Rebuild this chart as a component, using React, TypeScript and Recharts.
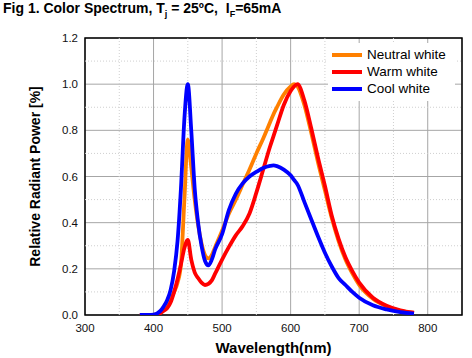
import React from 'react'
import {
  LineChart, Line, XAxis, YAxis, CartesianGrid, ReferenceLine, ReferenceArea, Legend,
} from 'recharts'

// wavelength (nm)
const wavelengths = [
  380, 400, 410, 415, 420, 425, 430, 435, 440, 445,
  450, 455, 460, 465, 470, 475, 480, 485, 490,
  500, 510, 520, 530, 540, 550, 560, 570, 575,
  580, 590, 600, 605, 610,
  620, 630, 640, 650, 660, 670, 680, 690, 700,
  720, 740, 760, 780,
]

const neutralWhite = [
  0, 0, 0.01, 0.025, 0.045, 0.07, 0.10, 0.14, 0.22, 0.50,
  0.76, 0.64, 0.50, 0.39, 0.31, 0.26, 0.245, 0.26, 0.295,
  0.365, 0.44, 0.50, 0.565, 0.63, 0.70, 0.765, 0.835, 0.87,
  0.90, 0.955, 0.99, 1.0, 0.99,
  0.91, 0.79, 0.66, 0.54, 0.42, 0.32, 0.24, 0.18, 0.13,
  0.07, 0.037, 0.018, 0.009,
]

const warmWhite = [
  0, 0, 0.008, 0.018, 0.03, 0.055, 0.10, 0.155, 0.22, 0.29,
  0.325, 0.24, 0.185, 0.16, 0.14, 0.13, 0.135, 0.15, 0.18,
  0.24, 0.295, 0.345, 0.385, 0.44, 0.53, 0.63, 0.73, 0.775,
  0.82, 0.91, 0.97, 0.99, 1.0,
  0.93, 0.81, 0.68, 0.56, 0.43, 0.33, 0.25, 0.19, 0.14,
  0.075, 0.04, 0.02, 0.01,
]

const coolWhite = [
  0, 0.002, 0.018, 0.038, 0.065, 0.11, 0.19, 0.32, 0.55, 0.85,
  1.0, 0.80, 0.55, 0.40, 0.30, 0.235, 0.215, 0.24, 0.285,
  0.35, 0.455, 0.525, 0.57, 0.60, 0.62, 0.637, 0.646, 0.648,
  0.645, 0.63, 0.605, 0.585, 0.565,
  0.49, 0.415, 0.34, 0.27, 0.21, 0.16, 0.13, 0.10, 0.075,
  0.042, 0.024, 0.012, 0.006,
]

const xTicks = [300, 400, 500, 600, 700, 800]
const yTicks = [0, 0.2, 0.4, 0.6, 0.8, 1.0, 1.2]
const xMinor = [350, 450, 550, 650, 750]
const yMinor = [0.1, 0.3, 0.5, 0.7, 0.9, 1.1]

const series = [
  { key: 'neutral', name: 'Neutral white', color: '#ff8000' },
  { key: 'warm', name: 'Warm white', color: '#ff0000' },
  { key: 'cool', name: 'Cool white', color: '#0000ff' },
]

const data = wavelengths.map((wl, i) => ({
  wl,
  neutral: neutralWhite[i],
  warm: warmWhite[i],
  cool: coolWhite[i],
}))

const FONT = '"Liberation Sans", Arial, sans-serif'

const renderLegend = () => (
  <div style={{ background: '#fff', width: 127, height: 58, paddingTop: 3, boxSizing: 'border-box' }}>
    {series.map(s => (
      <div key={s.key} style={{ display: 'flex', alignItems: 'center', height: 17, fontFamily: FONT, fontSize: 13.5, color: '#000' }}>
        <span style={{ display: 'inline-block', width: 30, height: 4, background: s.color, marginLeft: 4, marginRight: 5 }} />
        <span>{s.name}</span>
      </div>
    ))}
  </div>
)

export default function App() {
  return (
    <div style={{ position: 'absolute', left: 0, top: 0, width: 472, height: 358, background: '#fff', fontFamily: FONT }}>
      <div style={{ position: 'absolute', left: 3, top: 0, fontSize: 14, fontWeight: 'bold', color: '#000', whiteSpace: 'pre', zIndex: 2 }}>
        Fig 1. Color Spectrum, T<sub style={{ fontSize: 9 }}>j</sub> = 25ºC,  I<sub style={{ fontSize: 9 }}>F</sub>=65mA
      </div>
      <LineChart width={472} height={358} data={data} margin={{ top: 38, right: 10, bottom: 0, left: 0 }}>
        <CartesianGrid stroke="#a6a6a6" strokeWidth={1} />
        {xMinor.map(v => (
          <ReferenceLine key={'x' + v} x={v} stroke="#cfcfcf" strokeDasharray="1 2" />
        ))}
        {yMinor.map(v => (
          <ReferenceLine key={'y' + v} y={v} stroke="#cfcfcf" strokeDasharray="1 2" />
        ))}
        <XAxis
          dataKey="wl" type="number" domain={[300, 850]} ticks={xTicks} allowDataOverflow
          height={43} tickSize={0} tickMargin={9} axisLine={false} tickLine={false}
          tick={{ fontSize: 11.5, fill: '#111', fontFamily: FONT }}
          label={(props: any) => {
            const vb = props.viewBox
            return (
              <text x={vb.x + vb.width / 2} y={353} textAnchor="middle" fontSize={15} fontWeight="bold" fontFamily={FONT} fill="#000">
                Wavelength(nm)
              </text>
            )
          }}
        />
        <YAxis
          type="number" domain={[0, 1.2]} ticks={yTicks} allowDataOverflow width={85}
          tickSize={0} tickMargin={7} axisLine={false} tickLine={false}
          tickFormatter={(v: number) => v.toFixed(1)}
          tick={{ fontSize: 11.5, fill: '#111', fontFamily: FONT }}
          label={(props: any) => {
            const vb = props.viewBox
            const cy = vb.y + vb.height / 2
            return (
              <text x={35} y={cy} transform={`rotate(-90 35 ${cy})`} textAnchor="middle" dominantBaseline="central"
                fontSize={14} fontWeight="bold" fontFamily={FONT} fill="#000">
                Relative Radiant Power [%]
              </text>
            )
          }}
        />
        <ReferenceArea x1={300} x2={850} y1={0} y2={1.2} fill="none" stroke="#000" strokeWidth={1.5} />
        {series.map(s => (
          <Line key={s.key} dataKey={s.key} name={s.name} type="monotone" stroke={s.color}
            strokeWidth={3.8} dot={false} activeDot={false} isAnimationActive={false} />
        ))}
        <Legend layout="vertical" align="center" verticalAlign="middle" content={renderLegend}
          wrapperStyle={{ left: 328, top: 43, width: 127, height: 58 }} />
      </LineChart>
    </div>
  )
}
